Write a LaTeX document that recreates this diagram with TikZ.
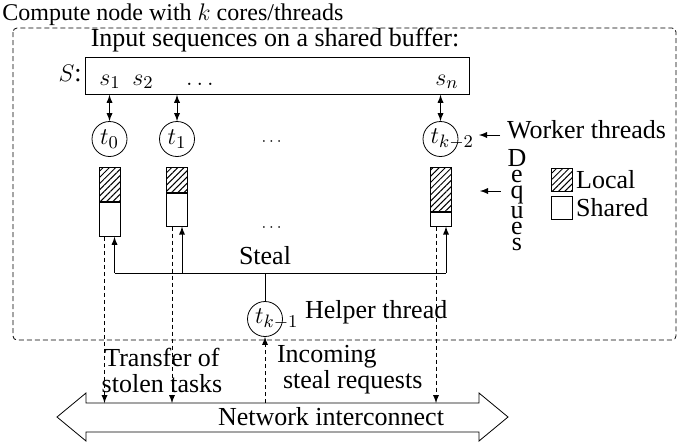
\documentclass[tikz,border=0pt]{standalone}
\usepackage[no-math]{fontspec}
\setmainfont{Liberation Serif}
\usepackage{mathtools}
\usetikzlibrary{arrows,shapes,positioning,patterns.meta}

\tikzset{
	thread/.style={draw,circle,inner sep=0pt,minimum size=17.5pt},
	local/.style={draw,inner sep=0pt,minimum width=10.5pt,
		pattern={Lines[angle=45,distance=2.2pt,line width=0.5pt]}},
	shared/.style={draw,inner sep=0pt,minimum width=10.5pt,fill=white},
	remote/.style={dash pattern=on 2pt off 1.5pt,-latex},
}

\begin{document}
\begin{tikzpicture}[x=0.5pt,y=-0.5pt,font=\fontsize{13}{13}\selectfont]

	\useasboundingbox (0,0) rectangle (688,445);

	\node[anchor=base west,inner sep=1pt,font=\fontsize{12}{14}\selectfont] (title) at (0,20) {Compute node with $k$ cores/threads};
	\draw[dash pattern=on 2.5pt off 1.5pt,rounded corners=2pt] (13,28) rectangle (676,340);

	% shared buffer
	\node[anchor=base] (inlbl) at (275,46) {Input sequences on a shared buffer:};
	\node[draw,anchor=north west,inner sep=0pt,minimum width=192pt,minimum height=18.5pt] (buf) at (85,57) {};
	\node[anchor=east,inner sep=1.5pt] (slbl) at ([yshift=1pt]buf.west) {$S$:};
	\node[anchor=base] (s1) at (110,85) {$s_1$};
	\node[anchor=base] (s2) at (143,85) {$s_2$};
	\node[anchor=base] (sdots) at (202,85) {$\dots$};
	\node[anchor=base] (sn) at (447,85) {$s_n$};

	% worker threads
	\node[thread] (t0) at (109.5,139) {$t_0$};
	\node[thread] (t1) at (177,139) {$t_1$};
	\node[thread] (t2) at (440.5,139) {$t_{k\mathrlap{-2}}$};
	\node[font=\footnotesize] (tdots) at (273,142) {$\cdots$};
	\draw[latex-latex] (buf.south -| t0) -- (t0);
	\draw[latex-latex] (buf.south -| t1) -- (t1);
	\draw[latex-latex] (buf.south -| t2) -- (t2);

	\node[anchor=west] (wlbl) at (500,130) {Worker threads};
	\coordinate (wtip) at (479,135);
	\draw[-latex] (wlbl.west |- wtip) -- (wtip);

	% deques
	\node[local,anchor=north,minimum height=17pt] (l0) at (109.5,167) {};
	\node[shared,anchor=north,minimum height=17pt] (q0) at (l0.south) {};
	\node[local,anchor=north,minimum height=12.5pt] (l1) at (177,167) {};
	\node[shared,anchor=north,minimum height=16.5pt] (q1) at (l1.south) {};
	\node[local,anchor=north,minimum height=22pt] (l2) at (441,167) {};
	\node[shared,anchor=north,minimum height=7pt] (q2) at (l2.south) {};
	\node[font=\footnotesize] (qdots) at (273,228) {$\cdots$};

	\node[align=center,font=\fontsize{13}{8}\selectfont] (deq) at (517,200) {D\\e\\q\\u\\e\\s};
	\coordinate (dtip) at (480,191);
	\draw[-latex] (deq.west |- dtip) -- (dtip);

	% legend
	\node[local,anchor=north west,minimum height=11.5pt] (lloc) at (551,168) {};
	\node[anchor=west,inner sep=1.5pt] (lloclbl) at (lloc.east) {Local};
	\node[shared,anchor=north west,minimum height=11.5pt] (lsh) at (551,196) {};
	\node[anchor=west,inner sep=1.5pt] (lshlbl) at (lsh.east) {Shared};

	% stealing
	\coordinate (bus) at (265,273);
	\node (steal) at (265,256) {Steal};
	\draw ([xshift=2.5pt]q0.south |- bus) -- ([xshift=2.5pt]q2.south |- bus);
	\foreach \q in {q0,q1,q2}
		\draw[latex-] ([xshift=2.5pt]\q.south) -- ([xshift=2.5pt]\q.south |- bus);

	\node[thread] (h) at (265,319) {$t_{k\mathrlap{-1}}$};
	\node[anchor=west] (hlbl) at (298,312) {Helper thread};
	\draw (bus) -- (h);

	% network
	\draw (86,403) -- (479,403) -- (479,393) -- (508,417) -- (479,441) -- (479,432)
		-- (86,432) -- (86,441) -- (57,417) -- (86,393) -- cycle;
	\coordinate (nettop) at (86,403);
	\node (netlbl) at (331,417) {Network interconnect};

	\foreach \q in {q0,q1,q2}
		\draw[remote] ([xshift=-2.5pt]\q.south) -- ([xshift=-2.5pt]\q.south |- nettop);
	\draw[remote] (h.south |- nettop) -- (h.south);

	\node[align=center] (xfer) at (162,370) {Transfer of\\stolen tasks};
	\node[align=left,anchor=west] (inreq) at (270,370) {Incoming\\\hspace*{3pt}steal requests};

\end{tikzpicture}
\end{document}
